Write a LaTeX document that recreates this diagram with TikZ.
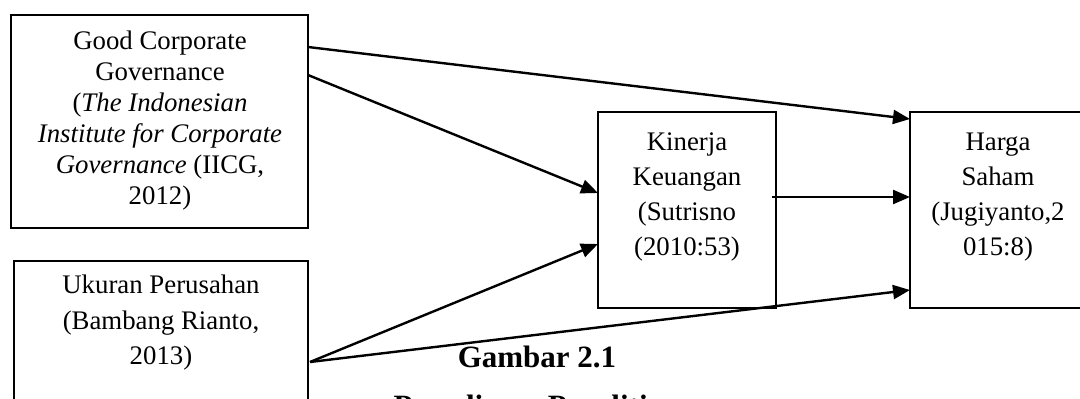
\documentclass[tikz,border=0pt]{standalone}
\usepackage{fontspec}
\setmainfont{Liberation Serif}
\usetikzlibrary{arrows.meta,calc}
\begin{document}
\begin{tikzpicture}[x=1pt,y=-1pt,
  box/.style={draw,line width=2.5pt,rectangle,inner sep=0pt,outer sep=0pt},
  lbl/.style={align=center,inner sep=0pt},
  conn/.style={line width=2.4pt,-{Triangle[length=17pt,width=14pt]}}]
\useasboundingbox (0,0) rectangle (1080,399);
\clip (0,0) rectangle (1080,399);
% boxes
\node[box,minimum width=297pt,minimum height=213pt] (gcg) at (159.5,121.5) {};
\node[box,minimum width=294pt,minimum height=179pt] (up) at (161,350.5) {};
\node[box,minimum width=178pt,minimum height=196pt] (kk) at (687,210) {};
\node[box,minimum width=176pt,minimum height=196pt] (hs) at (998,210) {};
% texts
\node[lbl,font=\fontsize{26.8pt}{31pt}\selectfont] (tg) at (160,121)
  {Good Corporate\\Governance\\(\textit{The Indonesian}\\\textit{Institute for Corporate}\\\textit{Governance} (IICG,\\2012)};
\node[lbl,font=\fontsize{26.8pt}{35.5pt}\selectfont] (tu) at (161,323)
  {Ukuran Perusahan\\(Bambang Rianto,\\2013)};
\node[lbl,font=\fontsize{26.8pt}{35pt}\selectfont] (tk) at (687,197)
  {Kinerja\\Keuangan\\(Sutrisno\\(2010:53)};
\node[lbl,font=\fontsize{26.8pt}{35pt}\selectfont] (th) at (998,197)
  {Harga\\Saham\\(Jugiyanto,2\\015:8)};
\node[anchor=base,inner sep=0pt,font=\fontsize{31pt}{37pt}\selectfont\bfseries] (cap1) at (537,367) {Gambar 2.1};
\node[anchor=base,inner sep=0pt,font=\fontsize{31pt}{37pt}\selectfont\bfseries] (cap2) at (537,416) {Paradigma Penelitian};
% connector points
\coordinate (g1) at ($(gcg.north east)+(0,32)$);
\coordinate (g2) at ($(gcg.north east)+(0,60)$);
\coordinate (u1) at ($(up.north east)+(2,101)$);
\coordinate (k1) at ($(kk.north west)+(0,81)$);
\coordinate (k2) at ($(kk.north west)+(0,132)$);
\coordinate (k3) at ($(kk.north east)+(-4,85)$);
\coordinate (h1) at ($(hs.north west)+(0,7)$);
\coordinate (h2) at ($(hs.north west)+(0,85)$);
\coordinate (h3) at ($(hs.north west)+(0,178)$);
% connectors
\draw[conn] (g1) -- (h1);
\draw[conn] (g2) -- (k1);
\draw[conn] (k3) -- (h2);
\draw[conn] (u1) -- (k2);
\draw[conn] (u1) -- (h3);
\end{tikzpicture}
\end{document}
